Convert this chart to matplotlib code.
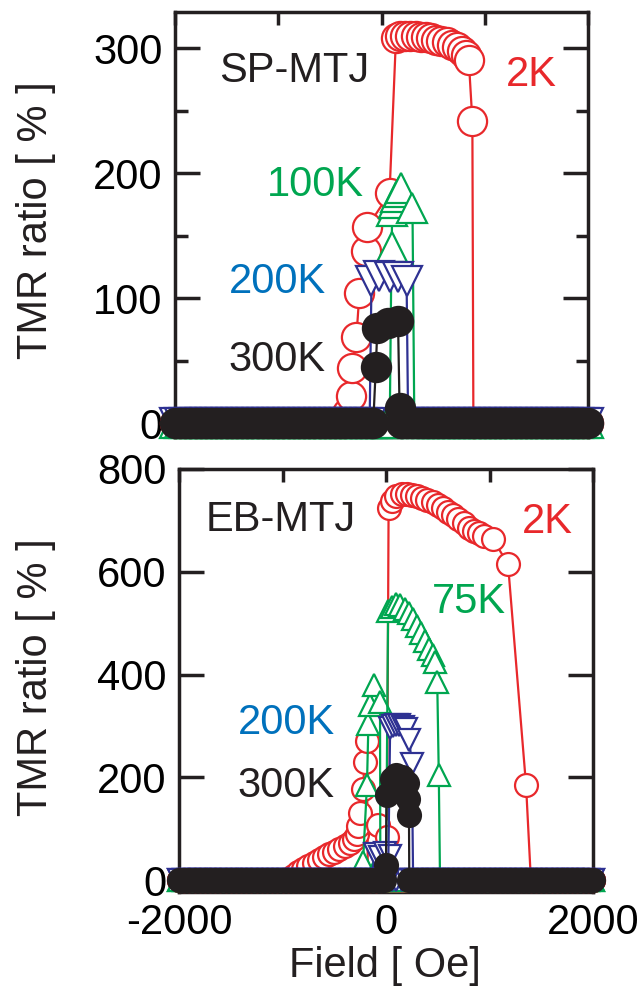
import numpy as np
import matplotlib
matplotlib.use('Agg')
import matplotlib.pyplot as plt

plt.rcParams['font.family'] = ['Liberation Sans', 'DejaVu Sans']

RED = '#E8282B'
GREEN = '#00A650'
BLUE = '#2E3192'
BLUE_TXT = '#0071BC'
BLACK = '#231F20'

# field sweep grid (Oe) where TMR sits at 0 %
field_grid = np.arange(-2000, 2001, 50)

# ---- SP-MTJ (top panel): peak parts of each loop ----
sp_2k_field = [-360, -335, -300, -282, -243, -214, -146, -136, 78, 140, 180, 230, 280, 330, 380,
               430, 480, 530, 580, 630, 680, 730, 780, 815, 845, 880, 890]
sp_2k_tmr = [0, 8, 22, 44, 69, 104, 138, 157, 184, 308, 310, 310, 310, 310, 309,
             309, 308, 307, 306, 305, 303, 301, 298, 295, 291, 242, 0]
sp_100k_field = [80, 97, 105, 125, 145, 165, 185, 300, 318]
sp_100k_tmr = [0, 141, 170, 176, 181, 185, 188, 172, 0]
sp_200k_field = [-115, -97, -20, 78, 160, 243, 258]
sp_200k_tmr = [0, 114, 118, 117, 117, 114, 0]
sp_300k_field = [-80, -55, -40, 60, 160, 175, 190]
sp_300k_tmr = [0, 45, 76, 80, 82, 12, 0]

# ---- EB-MTJ (bottom panel) ----
eb_2k_dn_field = [-950, -900, -850, -800, -750, -700, -650, -600, -550, -500, -450, -400,
                  -350, -310, -285, -270, -251, -225, -205, -185, -175]
eb_2k_dn_tmr = [0, 8, 15, 22, 28, 34, 40, 45, 50, 55, 60, 66,
                72, 80, 90, 105, 130, 178, 230, 270, 0]
eb_2k_up_field = [-95, -77, 10, 25, 60, 100, 150, 200, 250, 300, 350, 400, 450, 500, 550,
                  600, 650, 700, 750, 800, 850, 900, 950, 1034, 1179, 1353, 1400]
eb_2k_up_tmr = [0, 107, 84, 724, 738, 748, 752, 752, 750, 747, 744, 740, 735, 730, 724,
                717, 710, 702, 694, 686, 680, 675, 670, 663, 615, 185, 0]
eb_75k_a_field = [0, 20, 60, 100, 140, 180, 220, 260, 300, 340, 380, 420, 450, 475, 495, 510, 522]
eb_75k_a_tmr = [0, 523, 532, 537, 535, 528, 519, 508, 495, 480, 465, 450, 438, 425, 386, 205, 0]
eb_75k_b_field = [-240, -222, -184, -170, -150, -116, -58, -55, -45]
eb_75k_b_tmr = [0, 35, 185, 304, 341, 380, 347, 40, 0]
eb_200k_a_field = [20, 40, 70, 100, 130, 160, 190, 225, 250, 262]
eb_200k_a_tmr = [0, 296, 300, 302, 301, 299, 294, 272, 226, 0]
eb_200k_b_field = [-140, -110, -60, -10, 40, 60]
eb_200k_b_tmr = [0, 50, 45, 52, 48, 0]
eb_300k_field = [-20, 0, 5, 60, 100, 150, 200, 215, 222, 225]
eb_300k_tmr = [0, 30, 165, 197, 205, 200, 190, 158, 127, 0]


def sweep(fx, ty):
    fx = np.asarray(fx, float)
    ty = np.asarray(ty, float)
    left = field_grid[field_grid < fx[0]]
    right = field_grid[field_grid > fx[-1]]
    x = np.concatenate([left, fx, right])
    y = np.concatenate([np.zeros(len(left)), ty, np.zeros(len(right))])
    return x, y


def draw(ax, fx, ty, color, marker, ms, filled=False):
    x, y = sweep(fx, ty)
    face = color if filled else 'white'
    ax.plot(x, y, color=color, lw=1.6, marker=marker, ms=ms, mew=1.6,
            mfc=face, mec=color, clip_on=False)


DPI = 100
fig = plt.figure(figsize=(644 / DPI, 994 / DPI), dpi=DPI)

ax1 = fig.add_axes([175 / 644, 1 - 437 / 994, 413 / 644, 425 / 994])
ax2 = fig.add_axes([179 / 644, 1 - 892 / 994, 414 / 644, 423 / 994])

MS1 = 21
draw(ax1, sp_2k_field, sp_2k_tmr, RED, 'o', MS1)
draw(ax1, sp_100k_field, sp_100k_tmr, GREEN, '^', MS1)
draw(ax1, sp_200k_field, sp_200k_tmr, BLUE, 'v', MS1)
draw(ax1, sp_300k_field, sp_300k_tmr, BLACK, 'o', MS1, filled=True)

MS2 = 16.5
draw(ax2, eb_2k_dn_field, eb_2k_dn_tmr, RED, 'o', MS2)
draw(ax2, eb_2k_up_field, eb_2k_up_tmr, RED, 'o', MS2)
draw(ax2, eb_75k_b_field, eb_75k_b_tmr, GREEN, '^', MS2)
draw(ax2, eb_75k_a_field, eb_75k_a_tmr, GREEN, '^', MS2)
draw(ax2, eb_200k_b_field, eb_200k_b_tmr, BLUE, 'v', MS2)
draw(ax2, eb_200k_a_field, eb_200k_a_tmr, BLUE, 'v', MS2)
draw(ax2, eb_300k_field, eb_300k_tmr, BLACK, 'o', MS2, filled=True)

for ax in (ax1, ax2):
    ax.set_xlim(-2000, 2000)
    for s in ax.spines.values():
        s.set_linewidth(2.5)
        s.set_color(BLACK)
        s.set_zorder(0)
    ax.set_xticks([-2000, -1000, 0, 1000, 2000])
    ax.tick_params(axis='x', which='major', direction='in', top=True, bottom=True,
                   length=9, width=2.5, labelsize=30, pad=8, color=BLACK)
    ax.tick_params(axis='y', which='major', direction='in', left=True, right=True,
                   length=18, width=2.5, labelsize=30, pad=9, color=BLACK)
    ax.tick_params(axis='y', which='minor', direction='in', left=True, right=True,
                   length=9, width=2.5, color=BLACK)

ax1.set_ylim(-11, 329)
ax1.set_yticks([0, 100, 200, 300])
ax1.set_yticks([50, 150, 250], minor=True)
ax1.tick_params(axis='x', labelbottom=False)

ax2.set_ylim(-23, 800)
ax2.set_yticks([0, 200, 400, 600, 800])
ax2.set_xticklabels(['-2000', '', '0', '', '2000'])

# labels inside panels
ax1.text(-845, 273, 'SP-MTJ', fontsize=30, color=BLACK, ha='center', va='baseline')
ax1.text(1447, 270, '2K', fontsize=30, color=RED, ha='center', va='baseline')
ax1.text(-641, 182, '100K', fontsize=30, color=GREEN, ha='center', va='baseline')
ax1.text(-1010, 104, '200K', fontsize=30, color=BLUE_TXT, ha='center', va='baseline')
ax1.text(-1010, 42, '300K', fontsize=30, color=BLACK, ha='center', va='baseline')

ax2.text(-1014, 679, 'EB-MTJ', fontsize=30, color=BLACK, ha='center', va='baseline')
ax2.text(1556, 675, '2K', fontsize=30, color=RED, ha='center', va='baseline')
ax2.text(802, 519, '75K', fontsize=30, color=GREEN, ha='center', va='baseline')
ax2.text(-966, 285, '200K', fontsize=30, color=BLUE_TXT, ha='center', va='baseline')
ax2.text(-966, 162, '300K', fontsize=30, color=BLACK, ha='center', va='baseline')

fig.text(36 / 644, 1 - 220 / 994, 'TMR ratio [ % ]', rotation=90, fontsize=30,
         color=BLACK, ha='center', va='center')
fig.text(36 / 644, 1 - 677 / 994, 'TMR ratio [ % ]', rotation=90, fontsize=30,
         color=BLACK, ha='center', va='center')
fig.text(385 / 644, 1 - 966 / 994, 'Field [ Oe]', fontsize=30, color=BLACK,
         ha='center', va='center')

plt.savefig('out.png', dpi=DPI)
